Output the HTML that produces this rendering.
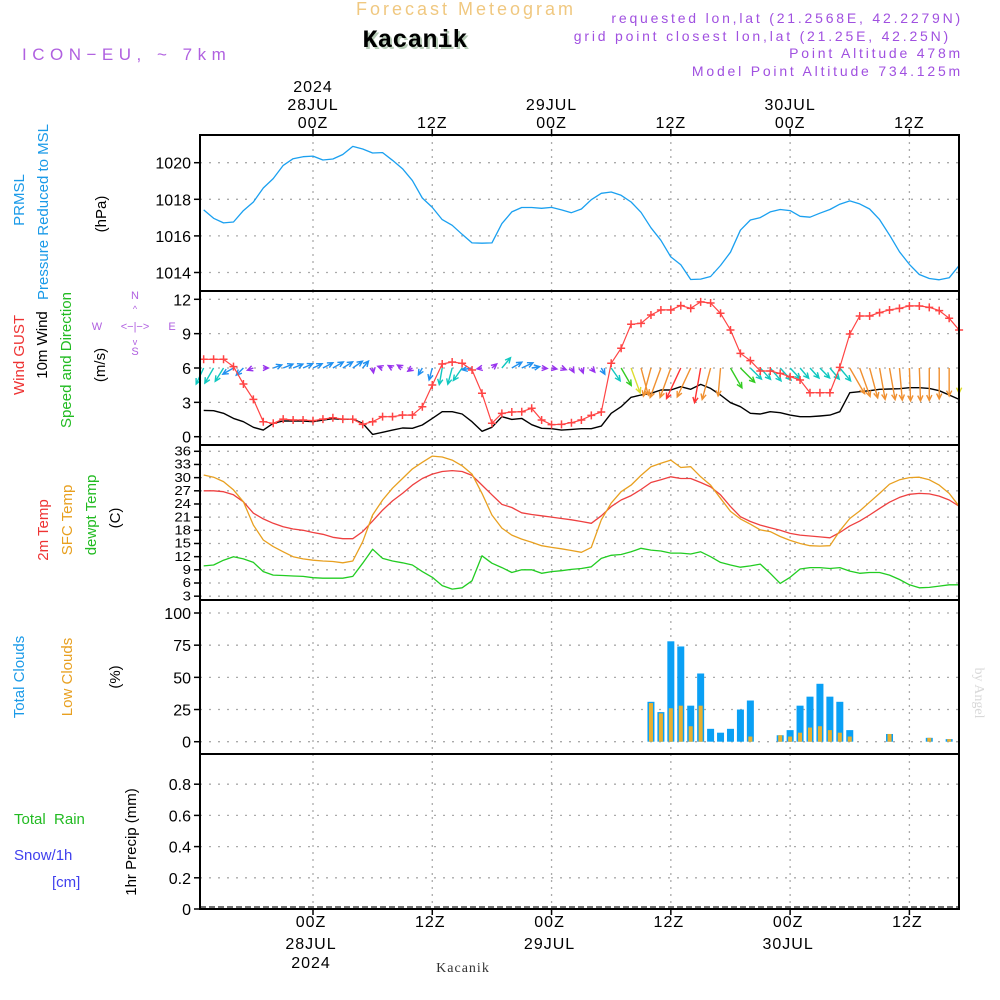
<!DOCTYPE html>
<html><head><meta charset="utf-8"><style>
html,body{margin:0;padding:0;background:#fff;}
svg{display:block;font-family:"Liberation Sans",sans-serif;}
</style></head><body>
<svg id="chart" width="1000" height="1000" viewBox="0 0 1000 1000" xmlns="http://www.w3.org/2000/svg">
<rect width="1000" height="1000" fill="#fff"/>
<g id="header">
<text x="466" y="15" text-anchor="middle" font-size="18" fill="#f0c880" letter-spacing="3">Forecast Meteogram</text>
<text x="417" y="49" text-anchor="middle" font-size="25" font-weight="bold" font-family="Liberation Mono, monospace" fill="#b8ccb8">Kacanik</text>
<text x="415" y="47" text-anchor="middle" font-size="25" font-weight="bold" font-family="Liberation Mono, monospace" fill="#000">Kacanik</text>
<text x="22" y="60" font-size="17" fill="#b060e0" letter-spacing="5.5">ICON−EU, ~ 7km</text>
<g fill="#a050e0" font-size="14" text-anchor="end" letter-spacing="2.8">
<text x="963" y="23">requested lon,lat (21.2568E, 42.2279N)</text>
<text x="951" y="41">grid point closest lon,lat (21.25E, 42.25N)</text>
<text x="963" y="58">Point Altitude 478m</text>
<text x="963" y="76">Model Point Altitude 734.125m</text>
</g>
</g>
<g id="grid"></g>
<g id="marks"></g>
<g id="frames"></g>
<g id="labels">
<g font-size="15">
<text transform="translate(24,200) rotate(-90)" text-anchor="middle" fill="#1a9ae8">PRMSL</text>
<text transform="translate(48,212) rotate(-90)" text-anchor="middle" fill="#1a9ae8">Pressure Reduced to MSL</text>
<text transform="translate(106,214) rotate(-90)" text-anchor="middle" fill="#000">(hPa)</text>
<text transform="translate(24,355) rotate(-90)" text-anchor="middle" fill="#ee3333">Wind GUST</text>
<text transform="translate(47,345) rotate(-90)" text-anchor="middle" fill="#000">10m Wind</text>
<text transform="translate(71,360) rotate(-90)" text-anchor="middle" fill="#22bb22">Speed and Direction</text>
<text transform="translate(105,365) rotate(-90)" text-anchor="middle" fill="#000">(m/s)</text>
<text transform="translate(48,530) rotate(-90)" text-anchor="middle" fill="#ee3333">2m Temp</text>
<text transform="translate(72,520) rotate(-90)" text-anchor="middle" fill="#e8a020">SFC Temp</text>
<text transform="translate(96,515) rotate(-90)" text-anchor="middle" fill="#22bb22">dewpt Temp</text>
<text transform="translate(120,518) rotate(-90)" text-anchor="middle" fill="#000">(C)</text>
<text transform="translate(24,677) rotate(-90)" text-anchor="middle" fill="#1a9ae8">Total Clouds</text>
<text transform="translate(72,677) rotate(-90)" text-anchor="middle" fill="#e8a020">Low Clouds</text>
<text transform="translate(120,677) rotate(-90)" text-anchor="middle" fill="#000">(%)</text>
<text transform="translate(136,842) rotate(-90)" text-anchor="middle" fill="#000">1hr Precip (mm)</text>
<text x="14" y="824" fill="#22bb22" xml:space="preserve">Total  Rain</text>
<text x="14" y="860" fill="#4040ee">Snow/1h</text>
<text x="52" y="887" fill="#4040ee">[cm]</text>
</g>
<g fill="#b060e0" font-size="11" text-anchor="middle">
<text x="135" y="299">N</text><text x="135" y="355">S</text><text x="97" y="330">W</text><text x="172" y="330">E</text>
<text x="135" y="330" font-size="11">&lt;−|−&gt;</text>
<text x="135" y="312" font-size="9">^</text><text x="135" y="345" font-size="9">v</text>
</g>
<text transform="translate(975,693) rotate(90)" text-anchor="middle" font-size="14" font-family="Liberation Serif, serif" fill="#d8d8d8">by Angel</text>
<text x="463" y="972" text-anchor="middle" font-size="14" font-family="Liberation Serif, serif" fill="#333" letter-spacing="1">Kacanik</text>
</g>
</svg>
<script>
const hours = [];for(let h=-11;h<=65;h++)hours.push(h);
const pressure = [1017.42,1016.96,1016.71,1016.76,1017.38,1017.85,1018.62,1019.13,1019.85,1020.22,1020.33,1020.36,1020.15,1020.2,1020.45,1020.89,1020.75,1020.53,1020.55,1020.13,1019.67,1019.02,1018.07,1017.56,1016.89,1016.58,1016.09,1015.62,1015.6,1015.62,1016.67,1017.31,1017.55,1017.55,1017.51,1017.56,1017.42,1017.27,1017.47,1017.98,1018.33,1018.4,1018.22,1017.85,1017.29,1016.44,1015.76,1014.85,1014.42,1013.62,1013.64,1013.78,1014.38,1015.11,1016.31,1016.87,1017.0,1017.31,1017.44,1017.38,1017.07,1017.02,1017.24,1017.44,1017.73,1017.91,1017.75,1017.47,1016.89,1016.05,1015.13,1014.44,1013.89,1013.67,1013.6,1013.71,1014.38];
const windGust = [6.76,6.76,6.76,6.12,4.6,3.26,1.31,1.17,1.54,1.46,1.46,1.4,1.54,1.66,1.54,1.52,1.08,1.31,1.75,1.75,1.89,1.89,2.62,4.51,6.35,6.52,6.41,5.83,3.79,1.17,2.04,2.16,2.18,2.48,1.46,1.05,1.08,1.22,1.46,1.86,2.16,6.41,7.72,9.82,9.9,10.63,11.07,11.07,11.45,11.21,11.77,11.68,10.78,9.32,7.28,6.64,5.74,5.74,5.53,5.24,4.95,3.84,3.84,3.84,6.06,8.97,10.54,10.54,10.84,11.07,11.21,11.42,11.42,11.3,11.01,10.34,9.32];
const windSpeed = [2.3,2.27,2.04,1.6,1.31,0.82,0.58,1.17,1.37,1.37,1.37,1.31,1.46,1.57,1.51,1.54,1.17,0.2,0.38,0.58,0.76,0.73,1.02,1.6,2.18,2.18,1.98,1.31,0.47,0.82,1.75,1.51,1.6,1.05,0.73,0.7,0.58,0.64,0.7,0.7,0.93,2.04,2.62,3.44,3.64,3.79,4.08,4.08,4.37,4.14,4.57,4.22,3.64,2.97,2.62,2.04,1.98,2.18,2.1,1.89,1.75,1.75,1.81,1.89,2.18,3.84,3.93,4.02,4.14,4.17,4.19,4.28,4.28,4.22,4.02,3.64,3.26];
const windDir = [25,30,32,60,45,70,270,250,248,248,246,245,242,240,238,235,220,350,110,120,120,55,30,15,10,15,35,80,80,230,220,240,245,260,275,280,290,330,340,320,330,325,330,340,345,15,20,20,25,25,10,15,5,330,315,315,318,320,318,317,320,318,316,320,320,330,340,345,350,350,355,358,358,0,0,0,0];
const temp2m = [27.0,27.0,26.8,26.1,24.5,21.9,20.6,19.6,18.8,18.3,18.0,17.5,17.1,16.4,16.1,16.1,17.7,20.1,22.6,24.7,26.4,28.3,29.8,30.8,31.4,31.6,31.4,30.5,28.3,26.1,23.9,23.2,22.0,21.6,21.3,21.0,20.7,20.4,20.0,19.6,21.3,23.4,24.9,25.9,27.3,28.9,29.5,30.2,29.8,29.8,28.9,27.9,26.1,23.4,21.1,20.0,19.2,18.6,18.0,17.3,16.9,16.7,16.5,16.3,17.5,19.0,20.1,21.5,23.0,24.4,25.5,26.2,26.4,26.3,25.8,24.9,23.5];
const tempSfc = [30.6,30.1,29.1,27.2,24.5,19.2,15.8,14.3,13.1,12.0,11.5,11.2,11.0,10.9,10.6,11.0,15.4,21.5,24.9,27.6,29.8,32.0,33.5,34.9,34.7,34.0,32.7,30.8,26.4,21.5,18.5,16.9,16.0,15.3,14.5,14.1,13.8,13.4,13.0,14.1,20.4,24.2,26.8,28.3,30.5,32.5,33.3,34.0,32.3,32.5,30.2,28.3,25.3,22.3,20.6,19.4,18.1,17.7,16.6,15.7,15.0,14.5,14.4,14.5,17.9,20.7,22.4,24.4,26.4,28.5,29.5,30.0,30.1,29.5,28.3,26.4,23.5];
const tempDew = [9.9,10.1,11.2,12.0,11.5,10.7,8.6,7.8,7.7,7.6,7.5,7.2,7.1,7.1,7.1,7.5,10.5,13.7,11.6,11.0,10.6,10.1,8.6,7.3,5.4,4.6,4.9,6.5,12.2,10.5,9.5,8.4,9.0,9.0,8.2,8.6,8.8,9.1,9.3,9.7,11.6,12.3,12.5,13.1,13.9,13.5,13.3,12.8,12.8,12.6,13.1,12.0,10.7,10.1,9.6,9.9,10.3,8.2,5.9,7.3,9.2,9.5,9.5,9.3,9.5,8.7,8.2,8.4,8.4,7.8,6.8,5.6,4.9,5.0,5.3,5.6,5.6];
const cloudHours = [34,35,36,37,38,39,40,41,42,43,44,47,48,49,50,51,52,53,54,58,62,64];
const totalClouds = [31,23,78,74,28,53,10,7,10,25,32,5,9,28,35,45,35,31,9,6,3,2];
const lowClouds = [30,22,26,28,12,28,0,0,0,0,4,5,4,7,11,12,9,7,4,6,3,2];
const pTicks = [1014,1016,1018,1020];
const wTicks = [0,3,6,9,12];
const tTicks = [3,6,9,12,15,18,21,24,27,30,33,36];
const cTicks = [0,25,50,75,100];
const rTicks = [0,0.2,0.4,0.6,0.8];
const timeTicks = [0,12,24,36,48,60];
const timeLabels = ["00Z","12Z","00Z","12Z","00Z","12Z"];
const dateTicks = [0,24,48];
const dateLabels = ["28JUL","29JUL","30JUL"];

const NS="http://www.w3.org/2000/svg";
const X0=200,X1=959;
const xs=h=>313+9.94*h;
const yP=v=>162.7-(v-1020)*18.3;
const yW=v=>436.7-v*11.45;
const yT=v=>451.3+(36-v)*4.39;
const yC=v=>741.7-v*1.287;
const yR=v=>909-v*156;
function el(tag,attrs,parent){const e=document.createElementNS(NS,tag);for(const k in attrs)e.setAttribute(k,attrs[k]);(parent||document.getElementById('marks')).appendChild(e);return e;}
const grid=document.getElementById('grid'),frames=document.getElementById('frames'),marks=document.getElementById('marks');
const panels=[[135,291,pTicks,yP,'p',v=>String(v)],[291,445,wTicks,yW,'w',v=>String(v)],[445,600,tTicks,yT,'t',v=>String(v)],[600,754,cTicks,yC,'c',v=>String(v)],[754,909,rTicks,yR,'r',v=>v===0?'0':v.toFixed(1)]];
panels.forEach(([top,bot,ticks,yf,key,fmt])=>{
  timeTicks.forEach(h=>{
    const l=el('line',{x1:xs(h),x2:xs(h),y1:top,y2:bot,stroke:'#aaa','stroke-width':1.3,'stroke-dasharray':'2,5'},grid);
    
    
  });
  ticks.forEach(v=>{
    const y=yf(v);
    if(!(key==='r'&&v===0)){
      const g=el('line',{x1:X0,x2:X1,y1:y,y2:y,stroke:'#aaa','stroke-width':1.3,'stroke-dasharray':'2,7'},grid);
      
      
    }
    const tk=el('line',{x1:X0-6,x2:X0,y1:y,y2:y,stroke:'#000','stroke-width':1.5},frames);
    
    
    const t=el('text',{x:X0-9,y:y+(key==='t'?5:6),'text-anchor':'end','font-size':key==='t'?15:16,fill:'#000'},frames);
    if(key==='t')t.setAttribute('transform',`translate(0,${y}) scale(1,0.85) translate(0,${-y})`);
    t.textContent=fmt(v);
    
    
  });
  const r=el('rect',{x:X0,y:top,width:X1-X0,height:bot-top,fill:'none',stroke:'#000','stroke-width':2},frames);
  
  
});
timeTicks.forEach((h,i)=>{
  const x=xs(h);
  el('line',{x1:x,x2:x,y1:129,y2:135,stroke:'#000','stroke-width':1.5},frames);
  el('line',{x1:x,x2:x,y1:909,y2:915,stroke:'#000','stroke-width':1.5},frames);
  const t1=el('text',{x:x,y:128,'text-anchor':'middle','font-size':16,fill:'#000','letter-spacing':1},frames);t1.textContent=timeLabels[i];
  
  
  const t2=el('text',{x:x-2,y:927,'text-anchor':'middle','font-size':16,fill:'#000','letter-spacing':1},frames);t2.textContent=timeLabels[i];
  
  
});
dateTicks.forEach((h,i)=>{
  const x=xs(h);
  const a=el('text',{x:x,y:110,'text-anchor':'middle','font-size':16,fill:'#000','letter-spacing':1},frames);a.textContent=dateLabels[i];
  
  
  const b=el('text',{x:x-2,y:949,'text-anchor':'middle','font-size':16,fill:'#000','letter-spacing':1},frames);b.textContent=dateLabels[i];
  
  
});
const yTop=el('text',{x:xs(0),y:92,'text-anchor':'middle','font-size':16,fill:'#000','letter-spacing':1},frames);yTop.textContent='2024';


const yBot=el('text',{x:xs(0)-2,y:968,'text-anchor':'middle','font-size':16,fill:'#000','letter-spacing':1},frames);yBot.textContent='2024';


const pb=el('line',{x1:X0,x2:X1,y1:907,y2:907,stroke:'#444','stroke-width':1.5,'stroke-dasharray':'6,3'});


function line(vals,yf,color,name,w){
  const d=vals.map((v,i)=>(i?'L':'M')+xs(hours[i]).toFixed(1)+','+yf(v).toFixed(1)).join('');
  const p=el('path',{d:d,fill:'none',stroke:color,'stroke-width':w||1.3,'stroke-linejoin':'round'});
  
  
}
line(pressure,yP,'#1aa0f0','pressure-line');
cloudHours.forEach((h,i)=>{
  const x=xs(h);
  const b=el('rect',{x:x-3.5,y:yC(totalClouds[i]),width:7,height:yC(0)-yC(totalClouds[i]),fill:'#0aa0f5'});
  
  
  if(lowClouds[i]>0){
    const l=el('rect',{x:x-2,y:yC(lowClouds[i]),width:4,height:yC(0)-yC(lowClouds[i]),fill:'#e8b030'});
    
    
  }
});
line(windSpeed,yW,'#000','wind-speed-line',1.4);
function spdColor(s){
  const st=[[0.9,'#9933ee'],[1.7,'#2090f0'],[2.4,'#10c8c0'],[3.1,'#33cc22'],[3.6,'#dddd30'],[4.3,'#f09030'],[99,'#ff3333']];
  for(const [t,c] of st) if(s<t) return c; return '#ff3333';
}
hours.forEach((h,i)=>{
  const x=xs(h),y=yW(6);
  const to=(windDir[i]+180)*Math.PI/180;
  const L=Math.max(5,7.7*windSpeed[i]);
  const dx=Math.sin(to),dy=-Math.cos(to);
  const x2=x+dx*L,y2=y+dy*L;
  const c=spdColor(windSpeed[i]);
  const hl=6, a=0.45;
  const bx=-dx,by=-dy;
  const h1x=x2+hl*(bx*Math.cos(a)-by*Math.sin(a)),h1y=y2+hl*(bx*Math.sin(a)+by*Math.cos(a));
  const h2x=x2+hl*(bx*Math.cos(-a)-by*Math.sin(-a)),h2y=y2+hl*(bx*Math.sin(-a)+by*Math.cos(-a));
  const p=el('path',{d:`M${x},${y}L${x2},${y2}M${h1x},${h1y}L${x2},${y2}L${h2x},${h2y}`,stroke:c,'stroke-width':1.4,fill:'none'});
  
  
});
line(windGust,yW,'#ff4444','wind-gust-line',1.2);
hours.forEach((h,i)=>{
  const x=xs(h),y=yW(windGust[i]);
  const p=el('path',{d:`M${x-4},${y}H${x+4}M${x},${y-4}V${y+4}`,stroke:'#ff4444','stroke-width':1.5});
  
  
});
line(temp2m,yT,'#ee4040','temp-2m-line');
line(tempSfc,yT,'#e8a020','temp-sfc-line');
line(tempDew,yT,'#22cc22','dewpoint-line');
</script>
</body></html>
